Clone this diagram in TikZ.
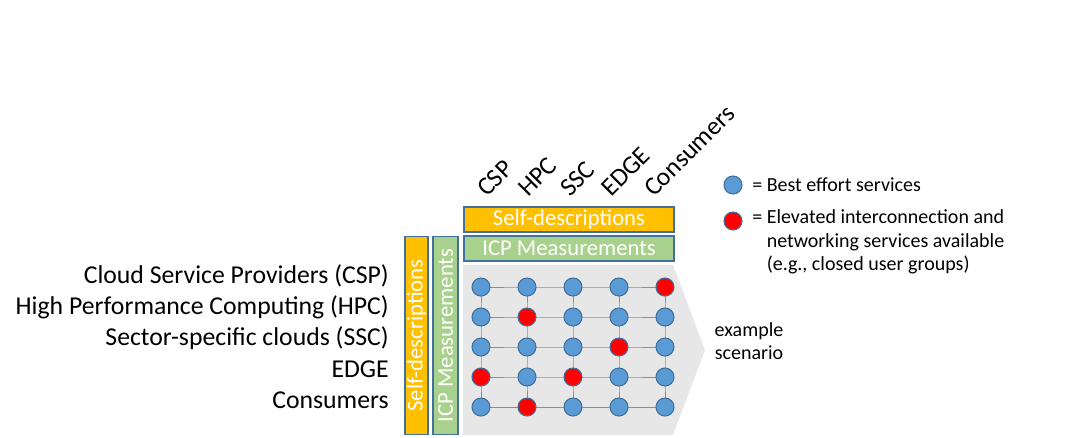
\documentclass[tikz,border=0pt]{standalone}
\usepackage{fontspec}
\setmainfont{Carlito}
\definecolor{bfill}{HTML}{5B9BD5}
\definecolor{bline}{HTML}{41719C}
\definecolor{orangef}{HTML}{FFC000}
\definecolor{greenf}{HTML}{A9D18E}
\definecolor{grayf}{HTML}{E7E7E7}
\begin{document}
\begin{tikzpicture}[x=0.75pt,y=-0.75pt,
  dotb/.style={circle,draw=bline,fill=bfill,line width=0.8pt,minimum size=13.5pt,inner sep=0pt},
  dotr/.style={circle,draw=bline,fill=red,line width=0.8pt,minimum size=13.5pt,inner sep=0pt},
  bar/.style={draw=bline,line width=0.8pt,text=white,font=\fontsize{17}{19}\selectfont,inner sep=0pt},
  rowlab/.style={anchor=east,font=\fontsize{19.3}{22}\selectfont,inner sep=0pt},
  collab/.style={anchor=base west,rotate=45,font=\fontsize{19.3}{22}\selectfont,inner sep=0pt},
  leg/.style={anchor=west,font=\fontsize{15}{17.6}\selectfont,inner sep=0pt,align=left},
  gridl/.style={draw=bfill,line width=0.7pt}]
\useasboundingbox (0,0) rectangle (1071,437);
% gray chevron
\fill[grayf] (463,265) -- (673,265) -- (705,350) -- (673,435) -- (463,435) -- cycle;
% bars
\node[bar,fill=orangef,minimum width=157.5pt,minimum height=18.75pt] (sdh) at (569,219.5) {Self-descriptions};
\node[bar,fill=greenf,minimum width=157.5pt,minimum height=18.75pt] (icph) at (569,248.5) {ICP Measurements};
\node[bar,fill=orangef,minimum width=149pt,minimum height=17.25pt,rotate=90] (sdv) at (416.5,335.5) {Self-descriptions};
\node[bar,fill=greenf,minimum width=149pt,minimum height=18.75pt,rotate=90] (icpv) at (445.5,335.5) {ICP Measurements};
% grid nodes
\foreach \r/\y in {1/287,2/317,3/347,4/377,5/407}{
  \foreach \c/\x in {1/481,2/527,3/573,4/619,5/665}{
    \coordinate (p\r\c) at (\x,\y);
  }
}
\foreach \r in {1,...,5}{
  \draw[gridl] (p\r1) -- (p\r2) -- (p\r3) -- (p\r4) -- (p\r5);
  \draw[gridl] (p1\r) -- (p2\r) -- (p3\r) -- (p4\r) -- (p5\r);
}
\foreach \r/\c in {1/1,1/2,1/3,1/4,2/1,2/3,2/4,2/5,3/1,3/2,3/3,3/5,4/2,4/4,4/5,5/1,5/3,5/4,5/5}{
  \node[dotb] (n\r\c) at (p\r\c) {};
}
\foreach \r/\c in {1/5,2/2,3/4,4/1,4/3,5/2}{
  \node[dotr] (n\r\c) at (p\r\c) {};
}
% row labels
\node[rowlab] (r1) at (389,276) {Cloud Service Providers (CSP)};
\node[rowlab] (r2) at (389,307) {High Performance Computing (HPC)};
\node[rowlab] (r3) at (389,338) {Sector-specific clouds (SSC)};
\node[rowlab] (r4) at (389,369) {EDGE};
\node[rowlab] (r5) at (389,400) {Consumers};
% column labels
\node[collab] (c1) at (487,198) {CSP};
\node[collab] (c2) at (528,198) {HPC};
\node[collab] (c3) at (570,198) {SSC};
\node[collab] (c4) at (611,198) {EDGE};
\node[collab] (c5) at (654,198) {Consumers};
% legend
\node[dotb] (lb) at (733,185) {};
\node[dotr] (lr) at (733,221) {};
\node[leg] (lbt) at (752,185) {= Best effort services};
\node[leg,anchor=north west] (lrt) at (752,209.5) {= Elevated interconnection and\\\phantom{= }networking services available\\\phantom{= }(e.g., closed user groups)};
\node[leg,anchor=center,align=center] (ex) at (749,341) {example\\scenario};
\end{tikzpicture}
\end{document}
